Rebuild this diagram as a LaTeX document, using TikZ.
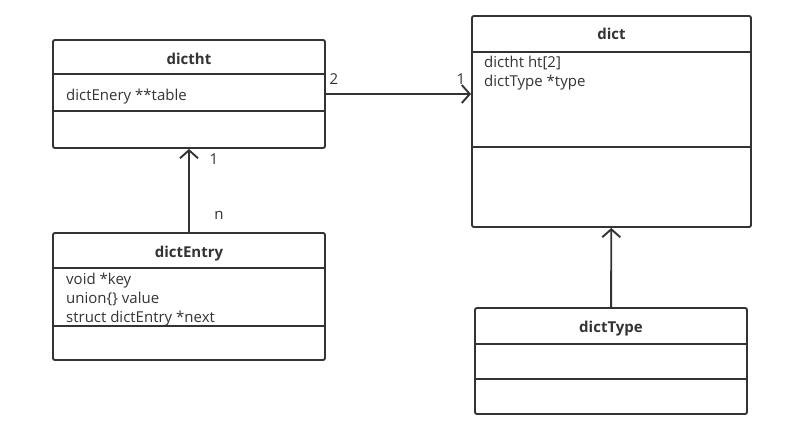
\documentclass[tikz,border=0pt]{standalone}
\usepackage{fontspec}
\setmainfont{Open Sans}
\usetikzlibrary{arrows.meta}
\definecolor{umlgray}{HTML}{333333}
\tikzset{
  cls/.style={draw=umlgray,line width=1.9pt,rounded corners=2pt,inner sep=0pt},
  clsname/.style={text=umlgray,anchor=base,inner sep=0pt,font=\fontsize{15}{18}\selectfont\bfseries},
  attr/.style={text=umlgray,anchor=base west,align=left,inner sep=0pt,font=\fontsize{15}{19}\selectfont},
  mult/.style={text=umlgray,anchor=base,inner sep=0pt,font=\fontsize{15}{18}\selectfont},
  sep/.style={umlgray,line width=1.7pt},
  assoc/.style={umlgray,line width=1.9pt,-{Straight Barb[length=8pt,width=18pt,line width=1.9pt]}}
}
\begin{document}
\begin{tikzpicture}[x=1pt,y=-1pt]
  \useasboundingbox (0,0) rectangle (786,429);

  % dictht
  \node[cls,minimum width=272pt,minimum height=108pt] (dictht) at (189,94) {};
  \node[clsname] (dicthtname) at (189,64) {dictht};
  \draw[sep] (dictht.west |- 0,74) -- (dictht.east |- 0,74);
  \draw[sep] (dictht.west |- 0,111) -- (dictht.east |- 0,111);
  \node[attr] (dicthtattr) at (66,100) {dictEnery **table};

  % dictEntry
  \node[cls,minimum width=272pt,minimum height=127pt] (dictEntry) at (189,296.5) {};
  \node[clsname] (dictEntryname) at (189,257) {dictEntry};
  \draw[sep] (dictEntry.west |- 0,268) -- (dictEntry.east |- 0,268);
  \draw[sep] (dictEntry.west |- 0,326) -- (dictEntry.east |- 0,326);
  \node[attr] (dictEntryattr1) at (66,284) {void *key};
  \node[attr] (dictEntryattr2) at (66,303) {union\{\} value};
  \node[attr] (dictEntryattr3) at (66,322) {struct dictEntry *next};

  % dict
  \node[cls,minimum width=279pt,minimum height=211pt] (dict) at (611.5,121.5) {};
  \node[clsname] (dictname) at (611.5,39) {dict};
  \draw[sep] (dict.west |- 0,52) -- (dict.east |- 0,52);
  \draw[sep] (dict.west |- 0,147) -- (dict.east |- 0,147);
  \node[attr] (dictattr1) at (484,67) {dictht ht[2]};
  \node[attr] (dictattr2) at (484,86) {dictType *type};

  % dictType
  \node[cls,minimum width=272pt,minimum height=106pt] (dictType) at (611,361) {};
  \node[clsname] (dictTypename) at (611,332) {dictType};
  \draw[sep] (dictType.west |- 0,344) -- (dictType.east |- 0,344);
  \draw[sep] (dictType.west |- 0,379) -- (dictType.east |- 0,379);

  % associations
  \draw[assoc] (dictht.east) -- (dictht.east -| dict.west);
  \node[mult] (m2) at (334,84) {2};
  \node[mult] (m1) at (461,84) {1};

  \draw[assoc] (dictEntry) -- (dictht);
  \node[mult] (e1) at (214,164) {1};
  \node[mult] (en) at (219,219) {n};

  \draw[assoc] (dictType) -- (dict);
\end{tikzpicture}
\end{document}
